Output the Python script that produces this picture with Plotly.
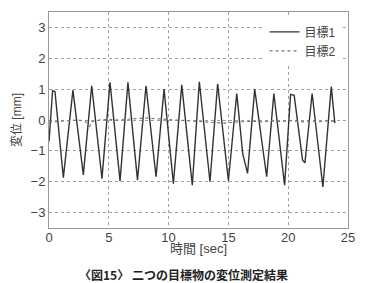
import plotly.graph_objects as go

# Target 1 (solid) – turning points
t1 = [0.0, 0.3, 0.5, 1.2, 2.0, 2.6, 2.87, 3.57, 4.43, 5.1, 5.94, 6.6, 7.4, 8.11, 8.95,
      9.62, 10.4, 11.1, 11.98, 12.57, 13.46, 14.1, 15.0, 15.7, 16.2, 16.6, 17.2, 18.2,
      18.8, 19.7, 20.2, 20.5, 21.0, 21.2, 21.4, 22.0, 22.9, 23.6, 23.9]
v1 = [-0.7, 0.95, 0.92, -1.87, 0.97, -1.05, -1.78, 1.11, -1.9, 1.22, -1.98, 1.22, -1.95, 1.11, -1.84,
      1.0, -2.06, 1.14, -2.11, 1.24, -2.0, 1.17, -1.97, 0.86, -1.1, -1.73, 1.0, -1.84,
      0.86, -2.11, 0.83, 0.8, -0.65, -1.3, -1.39, 0.86, -2.17, 1.08, -0.1]

# Target 2 (dotted) – small drift around zero
t2 = [0.0, 0.8, 1.6, 2.4, 3.0, 3.4, 3.6, 4.2, 5.0, 5.8, 6.6, 7.4, 8.2, 9.0, 9.8, 10.6,
      11.4, 12.2, 13.0, 13.8, 14.6, 15.4, 16.2, 17.0, 17.8, 18.6, 19.4, 20.2, 21.0,
      21.8, 22.6, 23.4, 23.9]
v2 = [-0.08, -0.04, -0.02, 0.0, -0.03, -0.2, -0.05, 0.0, 0.02, 0.0, 0.03, 0.05, 0.06, 0.04, 0.02, 0.0,
      -0.02, -0.04, -0.06, -0.08, -0.1, -0.07, -0.05, -0.04, -0.06, -0.03, -0.05, -0.02, -0.06,
      -0.04, -0.05, -0.03, -0.05]

x_ticks = [0, 5, 10, 15, 20, 25]
y_ticks = [-3, -2, -1, 0, 1, 2, 3]

font_fam = "Liberation Sans, Noto Sans CJK JP, sans-serif"

fig = go.Figure()
fig.add_trace(go.Scatter(x=t1, y=v1, mode="lines", name="目標1",
                         line=dict(color="#333333", width=1.4)))
fig.add_trace(go.Scatter(x=t2, y=v2, mode="lines", name="目標2",
                         line=dict(color="#777777", width=1.2, dash="dot")))

axis_common = dict(showline=True, linecolor="#999999", linewidth=1, mirror=True,
                   showgrid=True, gridcolor="#a0a0a0", griddash="dot", gridwidth=1,
                   zeroline=False, ticks="",
                   tickfont=dict(family=font_fam, size=13, color="#444444"))

fig.update_xaxes(range=[0, 25], tickvals=x_ticks, ticklabelstandoff=-3, **axis_common)
fig.update_yaxes(range=[-3.5, 3.5], tickvals=y_ticks,
                 title=dict(text="変位 [mm]", font=dict(family=font_fam, size=12, color="#444444"),
                            standoff=6),
                 **axis_common)

fig.add_annotation(text="時間 [sec]", xref="paper", yref="paper",
                   x=0.5, y=-0.094, xanchor="center", yanchor="middle", showarrow=False,
                   font=dict(family=font_fam, size=13, color="#444444"))
fig.add_annotation(text="<b>〈図15〉 二つの目標物の変位測定結果</b>", xref="paper", yref="paper",
                   x=0.45, y=-0.165, xanchor="center", yanchor="top", showarrow=False,
                   font=dict(family="Noto Sans CJK JP", size=12, color="#222222"))

fig.update_layout(
    width=369, height=283,
    margin=dict(l=49, r=21, t=12, b=55),
    paper_bgcolor="white", plot_bgcolor="white",
    showlegend=True,
    legend=dict(x=0.975, y=0.975, xanchor="right", yanchor="top", bgcolor="white",
                borderwidth=0, font=dict(family=font_fam, size=12, color="#444444"),
                tracegroupgap=0, itemwidth=30),
)

fig.write_html("out.html")
